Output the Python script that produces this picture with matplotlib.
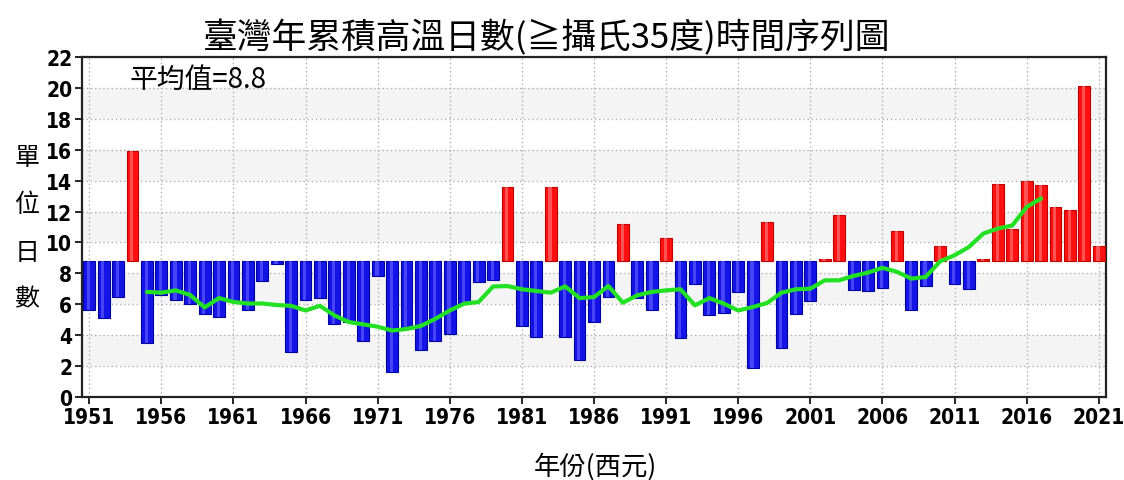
import matplotlib
matplotlib.use("Agg")
import matplotlib.pyplot as plt
import numpy as np

years = list(range(1951, 2022))
values = [5.6, 5.1, 6.5, 15.9, 3.5, 6.6, 6.3, 6.0, 5.35, 5.2,
          6.2, 5.6, 7.5, 8.6, 2.9, 6.25, 6.4, 4.7, 4.85, 3.6,
          7.8, 1.65, 4.4, 3.07, 3.6, 4.1, 6.0, 7.45, 7.6, 13.6,
          4.6, 3.9, 13.6, 3.9, 2.4, 4.85, 6.45, 11.2, 6.4, 5.6,
          10.3, 3.8, 7.3, 5.3, 5.45, 6.8, 1.9, 11.3, 3.2, 5.35,
          6.2, 8.9, 11.8, 6.95, 6.85, 7.05, 10.75, 5.6, 7.2, 9.8,
          7.3, 7.0, 8.9, 13.8, 10.9, 14.0, 13.7, 12.3, 12.1, 20.1,
          9.8]

smooth_years = list(range(1955, 2018))
smooth_values = [6.8, 6.75, 6.9, 6.6, 5.8, 6.4, 6.15, 6.05, 6.05, 5.95,
                 5.9, 5.6, 5.9, 5.28, 4.85, 4.7, 4.55, 4.3, 4.4, 4.6,
                 5.06, 5.6, 6.04, 6.15, 7.15, 7.18, 6.97, 6.86, 6.75, 7.16,
                 6.4, 6.47, 7.18, 6.1, 6.58, 6.8, 6.9, 6.97, 5.93, 6.4,
                 6.04, 5.6, 5.82, 6.08, 6.75, 6.97, 7.01, 7.55, 7.55, 7.84,
                 8.05, 8.36, 8.1, 7.66, 7.77, 8.78, 9.17, 9.71, 10.58, 10.9,
                 11.1, 12.3, 12.85]

mean_value = 8.8
xtick_years = list(range(1951, 2022, 5))
yticks = list(range(0, 23, 2))

title = "臺灣年累積高溫日數(≧攝氏35度)時間序列圖"
xlabel = "年份(西元)"
ylabel = "單位日數"
mean_label = "平均值=8.8"

cjk = ['Noto Sans CJK TC', 'DejaVu Sans']

fig = plt.figure(figsize=(11.24, 4.81), dpi=100)
ax = fig.add_axes([82/1124, 1-398/481, (1106-82)/1124, (398-58)/481])

# alternating background bands
for y0 in range(2, 22, 4):
    ax.axhspan(y0, y0 + 2, color='#f4f4f4', zorder=0, lw=0)

ax.set_xlim(1950.5, 2021.5)
ax.set_ylim(0, 22)

vals = np.array(values)
yrs = np.array(years)
heights = vals - mean_value
colors = ['#ff1010' if h >= 0 else '#1414e6' for h in heights]
edges = ['#c00000' if h >= 0 else '#0000a0' for h in heights]
ax.bar(yrs, heights, bottom=mean_value, width=0.82, color=colors,
       edgecolor=edges, linewidth=0.8, zorder=3)
hl = ['#ff7070' if h >= 0 else '#5a5aff' for h in heights]
ax.bar(yrs - 0.05, heights, bottom=mean_value, width=0.22, color=hl,
       linewidth=0, zorder=3.5, alpha=0.7)

ax.plot(smooth_years, smooth_values, color='#22e022', lw=3, zorder=5,
        solid_capstyle='round', solid_joinstyle='round')

ax.set_xticks(xtick_years)
ax.set_xticklabels([str(y) for y in xtick_years])
ax.set_yticks(yticks)
ax.set_yticklabels([str(y) for y in yticks])
for lab in ax.get_xticklabels() + ax.get_yticklabels():
    lab.set_fontfamily('DejaVu Sans')
    lab.set_fontstretch('condensed')
    lab.set_fontweight('bold')
    lab.set_fontsize(15)
ax.tick_params(axis='both', direction='out', length=5, width=1.2, pad=2)

ax.grid(True, linestyle=(0, (1, 2)), color='#b0b0b0', linewidth=1.0, zorder=1)
ax.set_axisbelow(True)
for s in ax.spines.values():
    s.set_linewidth(1.6)
    s.set_color('#222222')

ax.text(1953.8, 20.6, mean_label, fontfamily=cjk, fontsize=20,
        ha='left', va='center', zorder=6)

fig.text(547/1124, 1-38/481, title, fontfamily=cjk, fontsize=25,
         ha='center', va='center')
fig.text(595/1124, 1-467/481, xlabel, fontfamily=cjk, fontsize=19,
         ha='center', va='center')
fig.text(27/1124, 1-229/481, '\n'.join(ylabel), fontfamily=cjk, fontsize=18,
         ha='center', va='center', linespacing=2.05)

fig.savefig('out.png', dpi=100)
